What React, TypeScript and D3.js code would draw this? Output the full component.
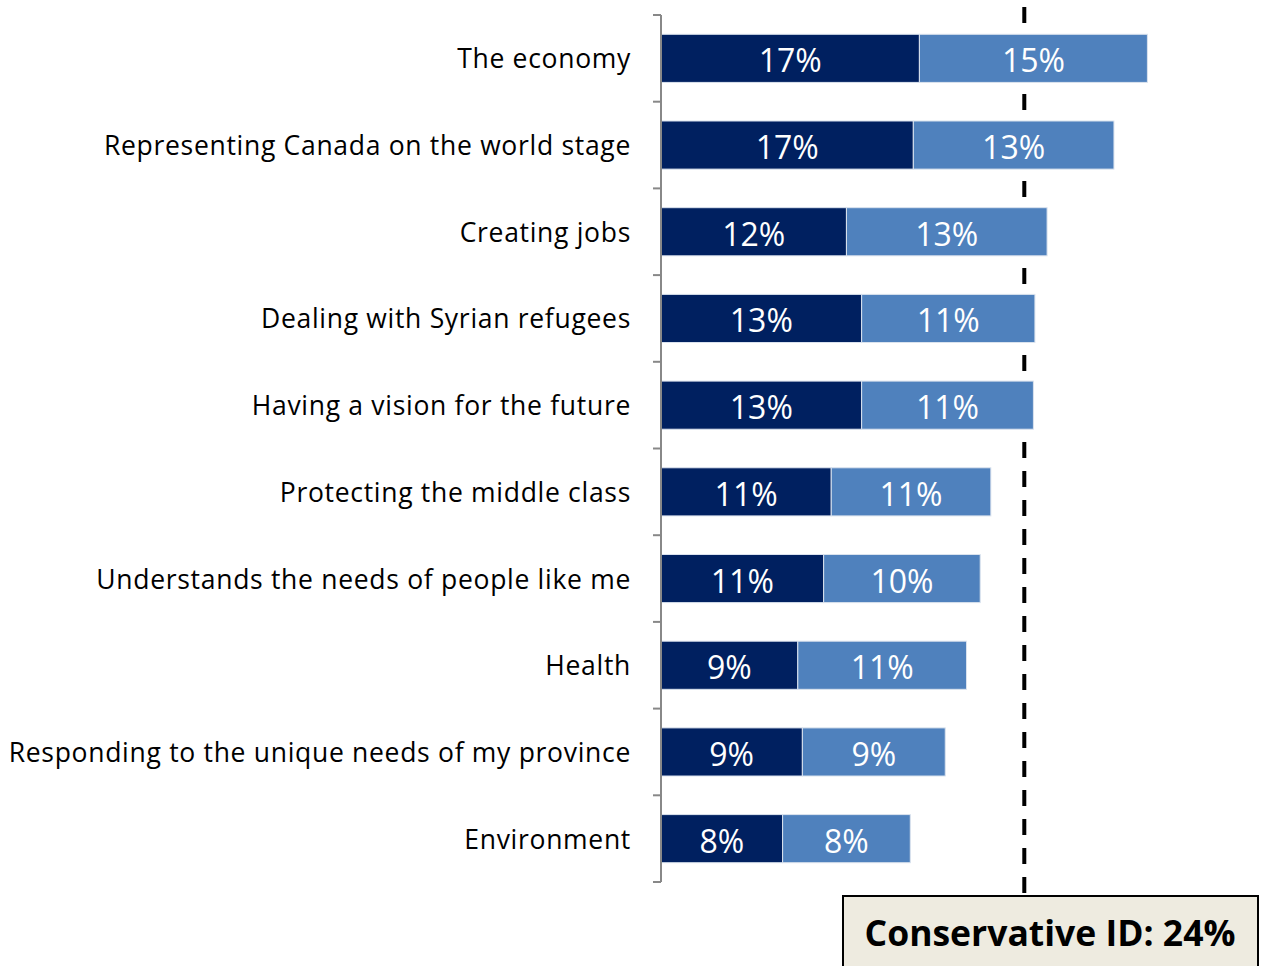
import React, { useEffect } from "react";
import * as d3 from "d3";

const categories: string[] = [
  "The economy",
  "Representing Canada on the world stage",
  "Creating jobs",
  "Dealing with Syrian refugees",
  "Having a vision for the future",
  "Protecting the middle class",
  "Understands the needs of people like me",
  "Health",
  "Responding to the unique needs of my province",
  "Environment",
];
const firstSeries: number[] = [17.0, 16.6, 12.2, 13.2, 13.2, 11.2, 10.7, 9.0, 9.3, 8.0];
const secondSeries: number[] = [15.0, 13.2, 13.2, 11.4, 11.3, 10.5, 10.3, 11.1, 9.4, 8.4];
const referenceValue = 24;
const referenceLabel = "Conservative ID: 24%";

const W = 1262;
const H = 966;

export default function App() {
  useEffect(() => {
    document.body.style.margin = "0";
    document.body.style.overflow = "hidden";
  }, []);

  const x = d3.scaleLinear().domain([0, 10]).range([661, 813]);
  const y = d3.scaleBand<string>().domain(categories).range([15, 882]).paddingInner(0.445).paddingOuter(0.2225);
  const band = (882 - 15) / categories.length;
  const ticks = d3.range(categories.length + 1).map((i) => 15 + i * band);

  const stacked = categories.map((c, i) => {
    const a = firstSeries[i];
    const b = secondSeries[i];
    return [
      { c, x0: 0, x1: a, v: a, color: "#002060" },
      { c, x0: a, x1: a + b, v: b, color: "#4f81bd" },
    ];
  });

  const lineX = x(referenceValue) - 1.5;

  return (
    <svg width={W} height={H} style={{ display: "block", position: "absolute", left: 0, top: 0 }}>
      <rect x={0} y={0} width={W} height={H} fill="#ffffff" />
      {/* dashed reference line (behind bars) */}
      <line x1={lineX} x2={lineX} y1={7} y2={896} stroke="#000" strokeWidth={4} strokeDasharray="16 13" />
      {/* bars */}
      {stacked.map((segs, i) =>
        segs.map((s, j) => (
          <g key={`${i}-${j}`}>
            <rect
              x={x(s.x0)}
              y={y(s.c)!}
              width={x(s.x1) - x(s.x0)}
              height={y.bandwidth()}
              fill={s.color}
              stroke="#dbe3ee"
              strokeWidth={1}
            />
            <text
              x={(x(s.x0) + x(s.x1)) / 2}
              y={y(s.c)! + y.bandwidth() / 2 + 14}
              textAnchor="middle"
              fill="#ffffff"
              fontFamily="'Open Sans', sans-serif"
              fontSize={32}
            >
              {`${Math.round(s.v)}%`}
            </text>
          </g>
        ))
      )}
      {/* axis */}
      <line x1={661} x2={661} y1={15} y2={882} stroke="#888888" strokeWidth={2} />
      {ticks.map((t, i) => (
        <line key={i} x1={653} x2={661} y1={t} y2={t} stroke="#888888" strokeWidth={2} />
      ))}
      {categories.map((c) => (
        <text
          key={c}
          x={631}
          y={y(c)! + y.bandwidth() / 2 + 10}
          textAnchor="end"
          fill="#000"
          fontFamily="'Open Sans', sans-serif"
          fontSize={26.5}
          letterSpacing={0.7}
        >
          {c}
        </text>
      ))}
      {/* reference box */}
      <rect x={843} y={896} width={415} height={90} fill="#eeebe0" stroke="#000" strokeWidth={2} />
      <text
        x={1050}
        y={946}
        textAnchor="middle"
        fill="#000"
        fontFamily="'Open Sans', sans-serif"
        fontWeight="bold"
        fontSize={35.5}
      >
        {referenceLabel}
      </text>
    </svg>
  );
}
